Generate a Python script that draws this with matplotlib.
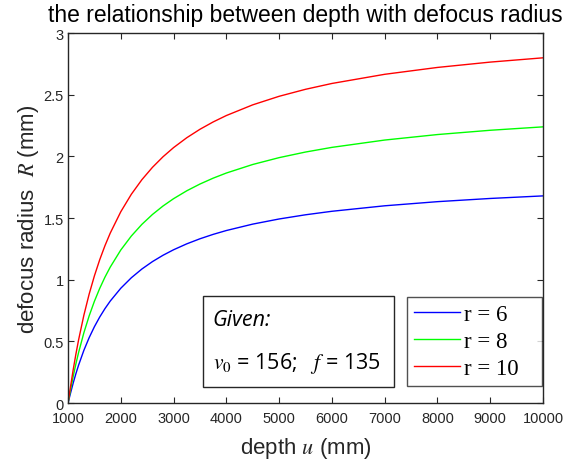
import matplotlib
matplotlib.use("Agg")
import matplotlib.pyplot as plt
from matplotlib.patches import Rectangle

plt.rcParams["font.family"] = ["Liberation Sans", "DejaVu Sans"]
plt.rcParams["mathtext.fontset"] = "stix"

# depth u (mm) and defocus radius R (mm)
depth_u = [1000, 1050, 1100, 1150, 1200, 1300, 1400, 1500, 1600, 1700, 1800,
           2000, 2200, 2400, 2600, 2800, 3000, 3250, 3500, 3750, 4000, 4500,
           5000, 5500, 6000, 7000, 8000, 9000, 10000]
R_r6 = [0.0, 0.0838, 0.1649, 0.2388, 0.3067, 0.4267, 0.5295, 0.6187, 0.6967,
        0.7655, 0.8267, 0.9307, 1.0158, 1.0867, 1.1467, 1.1981, 1.2427, 1.2907,
        1.3318, 1.3675, 1.3987, 1.4507, 1.4923, 1.5263, 1.5547, 1.5992, 1.6327,
        1.6587, 1.6795]
R_r8 = [0.0, 0.1117, 0.2198, 0.3185, 0.4089, 0.5689, 0.7060, 0.8249, 0.9289,
        1.0207, 1.1022, 1.2409, 1.3543, 1.4489, 1.5289, 1.5975, 1.6569, 1.7209,
        1.7757, 1.8233, 1.8649, 1.9342, 1.9897, 2.0351, 2.0729, 2.1323, 2.1769,
        2.2116, 2.2393]
R_r10 = [0.0, 0.1397, 0.2748, 0.3981, 0.5111, 0.7111, 0.8825, 1.0311, 1.1611,
         1.2758, 1.3778, 1.5511, 1.6929, 1.8111, 1.9111, 1.9968, 2.0711, 2.1511,
         2.2197, 2.2791, 2.3311, 2.4178, 2.4871, 2.5438, 2.5911, 2.6654, 2.7211,
         2.7644, 2.7991]
series_labels = ["r = 6", "r = 8", "r = 10"]
x_ticks = [1000, 2000, 3000, 4000, 5000, 6000, 7000, 8000, 9000, 10000]
y_ticks = [0, 0.5, 1, 1.5, 2, 2.5, 3]
y_tick_labels = ["0", "0.5", "1", "1.5", "2", "2.5", "3"]

axis_grey = "#262626"

fig = plt.figure(figsize=(5.73, 4.60), dpi=100)
ax = fig.add_axes([0.1187, 0.1217, 0.829, 0.8043])

l1, = ax.plot(depth_u, R_r6, color="#0000ff", lw=1.0)
l2, = ax.plot(depth_u, R_r8, color="#00ff00", lw=1.0)
l3, = ax.plot(depth_u, R_r10, color="#ff0000", lw=1.0)

ax.set_xlim(1000, 10000)
ax.set_ylim(0, 3)
ax.set_xticks(x_ticks)
ax.set_yticks(y_ticks)
ax.set_yticklabels(y_tick_labels)
ax.tick_params(direction="in", length=4, width=0.8, top=True, right=True,
               labelsize=10.5, colors=axis_grey, pad=3)
ax.tick_params(axis="x", pad=6)
for s in ax.spines.values():
    s.set_color(axis_grey)
    s.set_linewidth(1.0)

ax.set_title("the relationship between depth with defocus radius",
             fontsize=16.5, color="black", pad=9)
ax.set_xlabel("depth $u$ (mm)", fontsize=16, color=axis_grey, labelpad=7)
ax.set_ylabel("defocus radius  $R$ (mm)", fontsize=16, color=axis_grey, labelpad=2)

# "Given" box
box = Rectangle((0.284, 0.043), 0.402, 0.246, transform=ax.transAxes,
                facecolor="white", edgecolor=axis_grey, lw=1.0, zorder=5)
ax.add_patch(box)
ax.text(0.305, 0.226, "Given:", transform=ax.transAxes, fontsize=15.5,
        style="italic", family=["Open Sans", "DejaVu Sans"], va="center", zorder=6)
ax.text(0.305, 0.11, r"$v_{\mathit{0}}$ = 156;   $f$ = 135", transform=ax.transAxes,
        fontsize=15.5, family=["Open Sans", "DejaVu Sans"], va="center", zorder=6)

leg = ax.legend([l1, l2, l3], series_labels, loc="center",
                bbox_to_anchor=(0.714, 0.043, 0.284, 0.246),
                bbox_transform=ax.transAxes, mode="expand",
                prop={"family": "Liberation Serif", "size": 16.5},
                frameon=True, fancybox=False, edgecolor=axis_grey,
                handlelength=2.0, handletextpad=0.17, labelspacing=0.26,
                borderpad=0.3, borderaxespad=0)
leg.get_frame().set_linewidth(1.0)

fig.savefig("out.png", dpi=100)
